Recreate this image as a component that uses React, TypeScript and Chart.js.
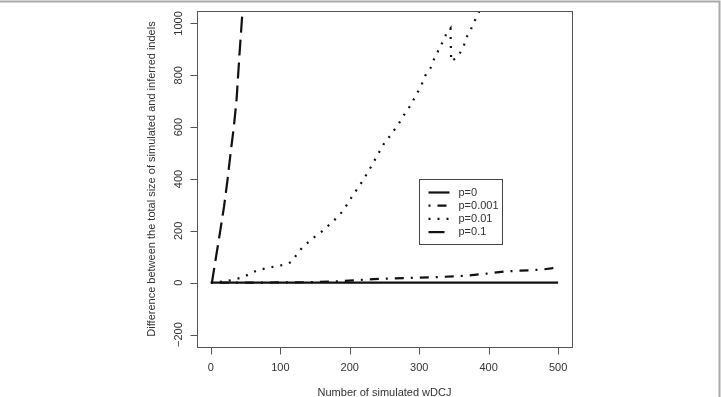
import React, { useEffect, useRef } from "react";
import { Chart, registerables } from "chart.js";

Chart.register(...registerables);

const xTicks = [0, 100, 200, 300, 400, 500];
const yTicks = [-200, 0, 200, 400, 600, 800, 1000];

const p0X = [0, 500];
const p0Y = [0, 0];

const p001X = [0, 50, 100, 141, 180, 205, 234, 282, 330, 368, 397, 426, 474, 490, 500];
const p001Y = [0, 0, 1, 2, 5, 9, 14, 18, 22, 27, 35, 44, 50, 55, 62];

const p01X = [0, 20, 30, 42, 54, 66, 83, 95, 107, 116, 124, 131, 138, 147, 160, 167, 176, 186, 196, 205, 215, 227, 239, 251, 260, 266, 272, 278, 284, 289, 295, 300, 305, 309, 316, 320, 325, 329, 335, 339, 345, 346, 353, 360, 365, 368, 373, 378, 383, 395];
const p01Y = [0, 5, 10, 18, 31, 47, 58, 64, 70, 80, 110, 134, 151, 172, 198, 215, 237, 263, 301, 340, 378, 430, 488, 545, 572, 597, 620, 647, 668, 694, 719, 746, 773, 800, 826, 856, 878, 907, 933, 960, 981, 854, 867, 891, 920, 947, 968, 1000, 1028, 1090];

const p1X = [0, 1.5, 6, 13, 19, 24, 29, 33, 37, 41, 45, 48];
const p1Y = [0, 0, 76, 192, 295, 398, 514, 600, 707, 874, 1028, 1140];

const labels = ["p=0", "p=0.001", "p=0.01", "p=0.1"];
const dashes: number[][] = [[], [2, 7, 9, 7], [2, 7], [16, 7]];

const xTitle = "Number of simulated wDCJ";
const yTitle = "Difference between the total size of simulated and inferred indels";

const FONT = "11px 'Liberation Sans', Arial, Helvetica, sans-serif";
const TEXT = "#333";
const AXIS = "#555";

function pts(xs: number[], ys: number[]) {
  return xs.map((x, i) => ({ x, y: ys[i] }));
}

const decorPlugin = {
  id: "decor",
  afterDatasetsDraw(chart: any) {
    const { ctx, chartArea: a, scales } = chart;
    const xs = scales.x;
    const ys = scales.y;
    ctx.save();
    // outer frame
    ctx.strokeStyle = "#aaa";
    ctx.lineWidth = 2;
    ctx.beginPath();
    ctx.moveTo(0, 1.5);
    ctx.lineTo(chart.width - 1.5, 1.5);
    ctx.lineTo(chart.width - 1.5, chart.height);
    ctx.stroke();

    // box
    ctx.strokeStyle = AXIS;
    ctx.lineWidth = 1;
    ctx.strokeRect(Math.round(a.left) + 0.5, Math.round(a.top) + 0.5, Math.round(a.right - a.left), Math.round(a.bottom - a.top));

    // ticks
    ctx.font = FONT;
    ctx.fillStyle = TEXT;
    ctx.textAlign = "center";
    ctx.textBaseline = "middle";
    ctx.beginPath();
    const b = Math.round(a.bottom) + 0.5;
    ctx.moveTo(xs.getPixelForValue(xTicks[0]), b);
    ctx.lineTo(xs.getPixelForValue(xTicks[xTicks.length - 1]), b);
    xTicks.forEach((t) => {
      const px = Math.round(xs.getPixelForValue(t)) + 0.5;
      ctx.moveTo(px, b);
      ctx.lineTo(px, b + 7);
    });
    const l = Math.round(a.left) + 0.5;
    ctx.moveTo(l, ys.getPixelForValue(yTicks[0]));
    ctx.lineTo(l, ys.getPixelForValue(yTicks[yTicks.length - 1]));
    yTicks.forEach((t) => {
      const py = Math.round(ys.getPixelForValue(t)) + 0.5;
      ctx.moveTo(l, py);
      ctx.lineTo(l - 7, py);
    });
    ctx.stroke();
    xTicks.forEach((t) => {
      ctx.fillText(String(t), xs.getPixelForValue(t), a.bottom + 20.5);
    });
    yTicks.forEach((t) => {
      ctx.save();
      ctx.translate(a.left - 18, ys.getPixelForValue(t));
      ctx.rotate(-Math.PI / 2);
      ctx.fillText(String(t).replace("-", "\u2212"), 0, 0);
      ctx.restore();
    });
    // titles
    ctx.fillText(xTitle, (a.left + a.right) / 2, a.bottom + 45.5);
    ctx.save();
    ctx.translate(a.left - 45, (a.top + a.bottom) / 2);
    ctx.rotate(-Math.PI / 2);
    ctx.fillText(yTitle, 0, 0);
    ctx.restore();

    // legend
    const lx = Math.round(xs.getPixelForValue(300)) + 0.5;
    const ly = Math.round(ys.getPixelForValue(400)) + 0.5;
    const w = 83;
    const h = 65;
    ctx.fillStyle = "#fff";
    ctx.fillRect(lx, ly, w, h);
    ctx.strokeStyle = "#444";
    ctx.lineWidth = 1;
    ctx.setLineDash([]);
    ctx.strokeRect(lx, ly, w, h);
    chart.data.datasets.forEach((ds: any, i: number) => {
      const yy = ly + 13 + i * 13.2;
      ctx.strokeStyle = "#111";
      ctx.lineWidth = ds.borderWidth;
      ctx.lineCap = "butt";
      ctx.setLineDash(ds.borderDash || []);
      ctx.beginPath();
      ctx.moveTo(lx + 9, yy);
      ctx.lineTo(lx + 30, yy);
      ctx.stroke();
      ctx.setLineDash([]);
      ctx.fillStyle = TEXT;
      ctx.textAlign = "left";
      ctx.fillText(ds.label, lx + 39, yy);
    });
    ctx.restore();
  },
};

export default function App() {
  const ref = useRef<HTMLCanvasElement | null>(null);
  useEffect(() => {
    document.body.style.margin = "0";
    const el = ref.current;
    if (!el) return;
    const series = [pts(p0X, p0Y), pts(p001X, p001Y), pts(p01X, p01Y), pts(p1X, p1Y)];
    const chart = new Chart(el, {
      type: "line",
      data: {
        datasets: series.map((d, i) => ({
          label: labels[i],
          data: d,
          borderColor: "#111",
          borderWidth: 2.2,
          borderDash: dashes[i],
          borderCapStyle: "butt" as const,
          pointRadius: 0,
          fill: false,
          tension: 0,
        })),
      },
      options: {
        animation: false,
        responsive: false,
        parsing: false as any,
        layout: { padding: { left: 197, right: 149, top: 11, bottom: 50 } },
        plugins: { legend: { display: false }, tooltip: { enabled: false } },
        scales: {
          x: { type: "linear", min: -20, max: 520, display: false },
          y: { type: "linear", min: -248, max: 1048, display: false },
        },
      },
      plugins: [decorPlugin],
    });
    return () => chart.destroy();
  }, []);
  return <canvas ref={ref} width={721} height={397} style={{ display: "block" }} />;
}
